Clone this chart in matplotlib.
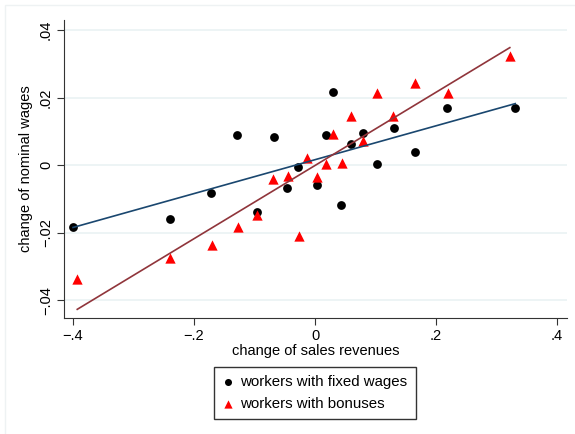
import numpy as np
import matplotlib
matplotlib.use("Agg")
import matplotlib.pyplot as plt
from matplotlib.patches import Rectangle

plt.rcParams["font.family"] = ["Liberation Sans", "DejaVu Sans"]

# workers with fixed wages
fixed_x = [-0.400, -0.240, -0.172, -0.129, -0.096, -0.068, -0.046, -0.028, 0.003,
           0.018, 0.030, 0.043, 0.060, 0.079, 0.102, 0.131, 0.165, 0.218, 0.331]
fixed_y = [-0.0184, -0.0160, -0.0083, 0.0089, -0.0139, 0.0083, -0.0068, -0.0006, -0.0059,
           0.0089, 0.0216, -0.0119, 0.0062, 0.0095, 0.0003, 0.0110, 0.0039, 0.0169, 0.0169]

# workers with bonuses
bonus_x = [-0.393, -0.240, -0.170, -0.127, -0.096, -0.069, -0.045, -0.026, -0.013, 0.003,
           0.018, 0.030, 0.045, 0.060, 0.079, 0.102, 0.129, 0.165, 0.220, 0.322]
bonus_y = [-0.0338, -0.0276, -0.0237, -0.0184, -0.0148, -0.0041, -0.0033, -0.0210, 0.0021, -0.0036,
           0.0003, 0.0092, 0.0006, 0.0145, 0.0071, 0.0213, 0.0145, 0.0243, 0.0213, 0.0323]

x_ticks = [-0.4, -0.2, 0, 0.2, 0.4]
x_labels = ["\u2212.4", "\u2212.2", "0", ".2", ".4"]
y_ticks = [-0.04, -0.02, 0, 0.02, 0.04]
y_labels = ["\u2212.04", "\u2212.02", "0", ".02", ".04"]

fig = plt.figure(figsize=(5.75, 4.34), dpi=100)
fig.patches.append(Rectangle((5 / 575, -0.1), 1.2, 1 - 5 / 434 + 0.1, transform=fig.transFigure,
                             fill=False, edgecolor="#eef2f3", linewidth=1.0))
ax = fig.add_axes([64 / 575, 1 - 318 / 434, (567 - 64) / 575, (318 - 20) / 434])

ax.scatter(fixed_x, fixed_y, s=40, marker="o", color="black", zorder=3,
           label="workers with fixed wages", linewidths=0)
ax.scatter(bonus_x, bonus_y, s=55, marker="^", color="#ff0000", zorder=4,
           label="workers with bonuses", linewidths=0)

# linear fits
for xs, ys, c in [(fixed_x, fixed_y, "#1a476f"), (bonus_x, bonus_y, "#90353b")]:
    b, a = np.polyfit(xs, ys, 1)
    xx = np.array([min(xs), max(xs)])
    ax.plot(xx, a + b * xx, color=c, linewidth=1.2, zorder=5)

ax.set_xlim(-0.4149, 0.4165)
ax.set_ylim(-0.0453, 0.0430)
ax.set_xticks(x_ticks)
ax.set_xticklabels(x_labels, fontsize=10.5)
ax.set_yticks(y_ticks)
ax.set_yticklabels(y_labels, fontsize=10.5, rotation=90, va="center")
ax.grid(True, axis="y", color="#eaf2f3", linewidth=1.2)
ax.set_axisbelow(True)
for s in ["top", "right"]:
    ax.spines[s].set_visible(False)
ax.spines["left"].set_color("#333333")
ax.spines["bottom"].set_color("#333333")
ax.tick_params(length=5, color="#333333", pad=3)
ax.set_xlabel("change of sales revenues", fontsize=10.5, labelpad=1)
ax.set_ylabel("change of nominal wages", fontsize=10.5, labelpad=4)

fig.legend(loc="center", bbox_to_anchor=(315 / 575, 1 - 393 / 434), fontsize=10.8,
           frameon=True, fancybox=False, edgecolor="#333333", handletextpad=0.4,
           handlelength=0.8, borderpad=0.55, labelspacing=0.5, framealpha=1,
           markerscale=0.8, borderaxespad=0)

fig.savefig("out.png", dpi=100)
